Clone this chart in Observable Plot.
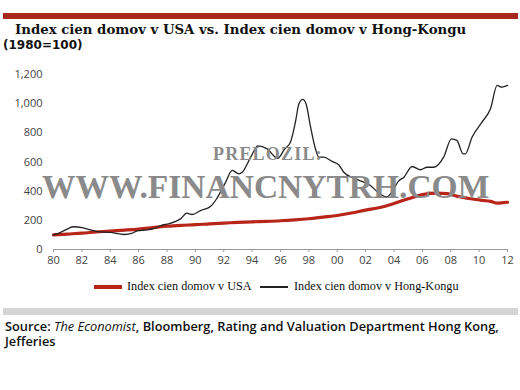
<!DOCTYPE html>
<html>
<head>
<meta charset="utf-8">
<script src="https://cdn.jsdelivr.net/npm/d3@7"></script>
<script src="https://cdn.jsdelivr.net/npm/@observablehq/plot@0.6"></script>
<style>
  html, body { margin: 0; padding: 0; background: #fff; }
  #wrap { position: relative; width: 520px; height: 390px; overflow: hidden; }
  .abs { position: absolute; }
  #topbar { left: 3px; top: 13px; width: 515px; height: 6px; background: #a8291c; }
  #title { left: 15px; top: 22px; font: bold 13.3px "DejaVu Serif", serif; color: #111; white-space: nowrap; }
  #subtitle { left: 3px; top: 38px; font: bold 12px "DejaVu Sans", sans-serif; color: #111; white-space: nowrap; }
  #chart { left: 0; top: 60px; }
  #legend { left: 0; top: 279px; width: 520px; height: 16px; font: 12.2px "Liberation Serif", serif; color: #111; }
  .legline { position: absolute; }
  .legtxt { position: absolute; top: 0; white-space: nowrap; }
  #graybar { left: 3px; top: 308px; width: 515px; height: 7px; background: #d4d4d4; }
  #source { left: 5px; top: 319px; width: 500px; font: 600 12.8px "Open Sans", sans-serif; color: #111; line-height: 15px; }
  #source i { font-weight: 500; }
  .wm { white-space: nowrap; font-family: "Liberation Serif", serif; font-weight: bold; color: #8a8a8a; pointer-events: none; }
  #wm1 { left: 213px; top: 144px; font-size: 18px; letter-spacing: 1.2px; }
  #wm2 { left: 42px; top: 168px; font-size: 33.5px; }
</style>
</head>
<body>
<div id="wrap">
  <div id="topbar" class="abs"></div>
  <div id="title" class="abs">Index cien domov v USA vs. Index cien domov v Hong-Kongu</div>
  <div id="subtitle" class="abs">(1980=100)</div>
  <div id="chart" class="abs"></div>
  <div id="wm1" class="abs wm">PRELOZIL:</div>
  <div id="wm2" class="abs wm">WWW.FINANCNYTRH.COM</div>
  <div id="legend" class="abs"></div>
  <div id="graybar" class="abs"></div>
  <div id="source" class="abs">Source: <i>The Economist</i>, Bloomberg, Rating and Valuation Department Hong Kong, Jefferies</div>
</div>
<script>
// ---- Data ----
const seriesNames = ["Index cien domov v USA", "Index cien domov v Hong-Kongu"];

const usYears  = [1980, 1981, 1982, 1983, 1984, 1985, 1986, 1987, 1988, 1989, 1990, 1991, 1992, 1993, 1994, 1995, 1996, 1997, 1998, 1999, 2000, 2001, 2002, 2003, 2004, 2005, 2006, 2007, 2007.75, 2008.5, 2009.4, 2010.3, 2010.8, 2011.3, 2011.6, 2012];
const usValues = [100, 106, 112, 120, 127, 133, 140, 150, 160, 166, 170, 176, 181, 186, 190, 193, 197, 203, 211, 222, 233, 250, 270, 288, 316, 348, 376, 386, 383, 364, 348, 336, 330, 318, 320, 324];

const hkYears  = [1980, 1980.5, 1981, 1981.4, 1982.1, 1982.6, 1983.1, 1984, 1985, 1985.5, 1985.9, 1986.6, 1987.1, 1987.7, 1988.1, 1988.95, 1989.4, 1989.77, 1990.36, 1991.06, 1991.5, 1992.1, 1992.6, 1993.06, 1993.3, 1993.9, 1994.4, 1995.06, 1995.8, 1996.3, 1996.7, 1997.05, 1997.3, 1997.57, 1997.8, 1998.1, 1998.46, 1998.7, 1999.05, 1999.64, 2000.1, 2000.46, 2001.16, 2001.87, 2002.34, 2002.8, 2003.5, 2003.9, 2004.3, 2004.7, 2005.28, 2005.86, 2006.33, 2006.8, 2007.5, 2008.05, 2008.43, 2008.87, 2009.03, 2009.5, 2010.2, 2010.8, 2011.27, 2011.6, 2012];
const hkValues = [100, 118, 142, 156, 148, 135, 123, 117, 103, 110, 128, 134, 145, 168, 176, 210, 249, 240, 267, 295, 348, 455, 542, 519, 530, 633, 710, 690, 625, 690, 736, 873, 999, 1029, 999, 850, 691, 633, 633, 604, 581, 530, 489, 462, 439, 398, 360, 400, 467, 496, 569, 547, 564, 564, 633, 759, 748, 656, 656, 770, 873, 965, 1125, 1113, 1125];

const yTicks = [0, 200, 400, 600, 800, 1000, 1200];
const xTicks = [1980, 1982, 1984, 1986, 1988, 1990, 1992, 1994, 1996, 1998, 2000, 2002, 2004, 2006, 2008, 2010, 2012];
const colors = ["#b8261a", "#222222"];

// ---- Build tables ----
const us = usYears.map((y, i) => ({year: y, value: usValues[i]}));
const hk = hkYears.map((y, i) => ({year: y, value: hkValues[i]}));

const chart = Plot.plot({
  width: 520,
  height: 215,
  marginTop: 14,
  marginBottom: 26,
  marginLeft: 53,
  marginRight: 13,
  style: {fontFamily: "'Open Sans', sans-serif", fontSize: "11px", color: "#444", background: "transparent"},
  x: {domain: [1980, 2012], ticks: xTicks, tickFormat: d => String(d % 100).padStart(2, "0"), tickSize: 3, tickPadding: 4, label: null},
  y: {domain: [0, 1200], ticks: yTicks, tickFormat: d3.format(","), tickSize: 0, tickPadding: 11, label: null},
  marks: [
    Plot.ruleY([0], {stroke: "#9a9a9a", strokeWidth: 1}),
    Plot.line(us, {x: "year", y: "value", stroke: colors[0], strokeWidth: 3.2, curve: "monotone-x"}),
    Plot.line(hk, {x: "year", y: "value", stroke: colors[1], strokeWidth: 1.3, curve: "monotone-x"})
  ]
});
chart.querySelectorAll("[aria-label='x-axis tick'] path, [aria-label='x-axis tick']").forEach(e => e.setAttribute("stroke", "#9a9a9a"));
document.getElementById("chart").appendChild(chart);

// ---- Legend ----
const legend = document.getElementById("legend");
const legItems = [
  {x0: 94, x1: 122, tx: 127, w: 3.2},
  {x0: 260, x1: 288, tx: 294, w: 1.3}
];
seriesNames.forEach((name, i) => {
  const it = legItems[i];
  const ln = document.createElement("div");
  ln.className = "legline";
  ln.style.left = it.x0 + "px";
  ln.style.width = (it.x1 - it.x0) + "px";
  ln.style.top = (8 - it.w / 2) + "px";
  ln.style.height = it.w + "px";
  ln.style.background = colors[i];
  legend.appendChild(ln);
  const tx = document.createElement("div");
  tx.className = "legtxt";
  tx.style.left = it.tx + "px";
  tx.textContent = name;
  legend.appendChild(tx);
});
</script>
</body>
</html>
